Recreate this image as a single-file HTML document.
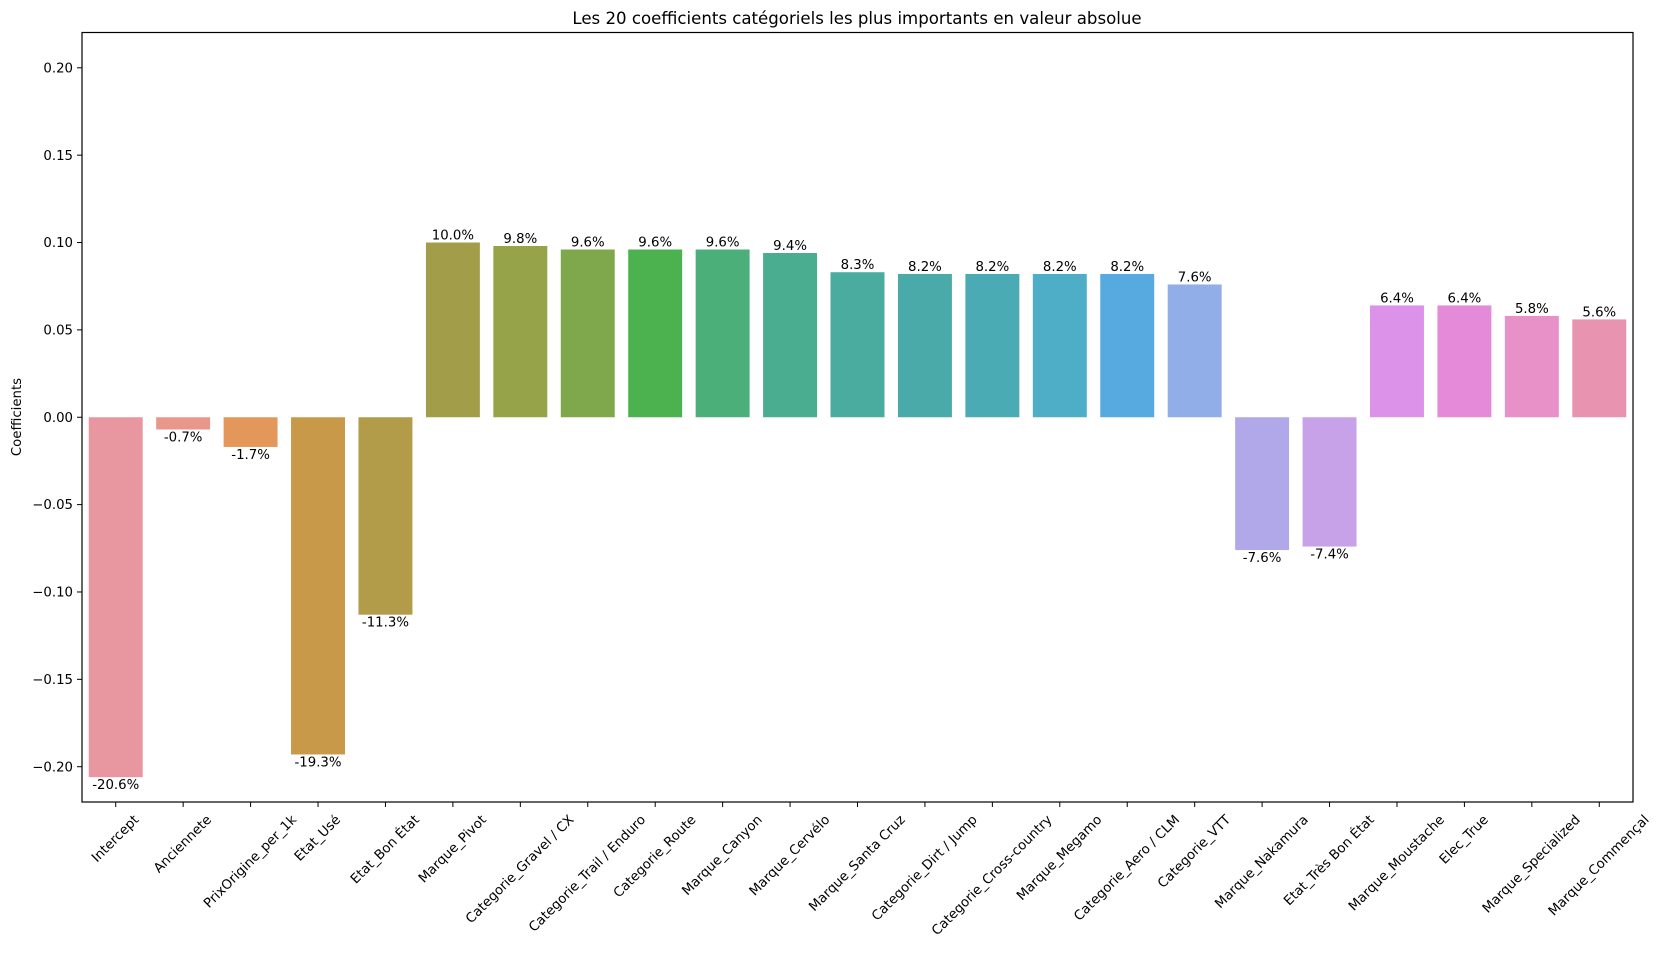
<!DOCTYPE html>
<html><head><meta charset="utf-8">
<style>
html,body{margin:0;padding:0;background:#fff;}
svg{display:block;font-family:"DejaVu Sans","Liberation Sans",sans-serif;}
</style></head>
<body>
<svg id="chart" width="1663" height="953" xmlns="http://www.w3.org/2000/svg">
<text x="857" y="24" font-size="16.6" text-anchor="middle">Les 20 coefficients catégoriels les plus importants en valeur absolue</text>
<text transform="translate(21,417) rotate(-90)" font-size="13.3" text-anchor="middle">Coefficients</text>
<g id="plot"></g>
<rect x="82" y="32.5" width="1551" height="769.5" fill="none" stroke="#000" stroke-width="1.2"/>
</svg>
<script>
const categories = ["Intercept","Anciennete","PrixOrigine_per_1k","Etat_Usé","Etat_Bon État","Marque_Pivot","Categorie_Gravel / CX","Categorie_Trail / Enduro","Categorie_Route","Marque_Canyon","Marque_Cervélo","Marque_Santa Cruz","Categorie_Dirt / Jump","Categorie_Cross-country","Marque_Megamo","Categorie_Aero / CLM","Categorie_VTT","Marque_Nakamura","Etat_Très Bon État","Marque_Moustache","Elec_True","Marque_Specialized","Marque_Commençal"];
const values = [-0.206,-0.007,-0.017,-0.193,-0.113,0.100,0.098,0.096,0.096,0.096,0.094,0.083,0.082,0.082,0.082,0.082,0.076,-0.076,-0.074,0.064,0.064,0.058,0.056];
const barColors = ["#e8969f","#e8978a","#e4975a","#c9994a","#b29c4a","#a19d48","#96a348","#7ea84b","#4cb14f","#4aaf78","#4aad8f","#4aab9f","#4aa9a9","#4aabb5","#4eaec7","#56aadf","#91aee8","#b0a8e8","#c7a2e8","#dc92e8","#e48ad8","#e890c8","#e893b0"];
const yTicks = [-0.20,-0.15,-0.10,-0.05,0.00,0.05,0.10,0.15,0.20];
const yTickLabels = ["\u22120.20","\u22120.15","\u22120.10","\u22120.05","0.00","0.05","0.10","0.15","0.20"];

const NS="http://www.w3.org/2000/svg";
const L=82,R=1633,T=32.5,B=802,YMIN=-0.2202,YMAX=0.2202;
const n=categories.length, step=(R-L)/n;
function xPos(i){return L+step*(i+0.5);}
function yPos(v){return B-(v-YMIN)/(YMAX-YMIN)*(B-T);}
const g=document.getElementById('plot');
function mk(tag,attrs){const e=document.createElementNS(NS,tag);for(const k in attrs)e.setAttribute(k,attrs[k]);g.appendChild(e);return e;}

yTicks.forEach((v,i)=>{
  const y=yPos(v);
  const t=mk('line',{x1:L-5,x2:L,y1:y,y2:y,stroke:'#000','stroke-width':1});
  
  
  const lb=mk('text',{x:L-9,y:y+4.6,'font-size':13.3,'text-anchor':'end'});
  lb.textContent=yTickLabels[i];
  
  
});

const bw=step*0.8;
categories.forEach((c,i)=>{
  const v=values[i], cx=xPos(i), y0=yPos(0), y1=yPos(v);
  const r=mk('rect',{x:cx-bw/2,y:Math.min(y0,y1),width:bw,height:Math.abs(y1-y0),fill:barColors[i]});
  
  
  const lbl=mk('text',{x:cx,y:v>=0?y1-3:y1+12,'font-size':13.3,'text-anchor':'middle'});
  lbl.textContent=(v*100).toFixed(1)+'%';
  
  
  const tk=mk('line',{x1:cx,x2:cx,y1:B,y2:B+5,stroke:'#000','stroke-width':1});
  
  
  const tx=mk('text',{x:cx,y:0,'font-size':13.3,'text-anchor':'middle','dominant-baseline':'central'});
  tx.textContent=c;
  
  
  const len=tx.getComputedTextLength();
  const h=(len+14)*Math.SQRT1_2;
  const cy=B+11+h/2;
  tx.setAttribute('y',cy);
  tx.setAttribute('transform','rotate(-45,'+cx+','+cy+')');
});
</script>
</body></html>
